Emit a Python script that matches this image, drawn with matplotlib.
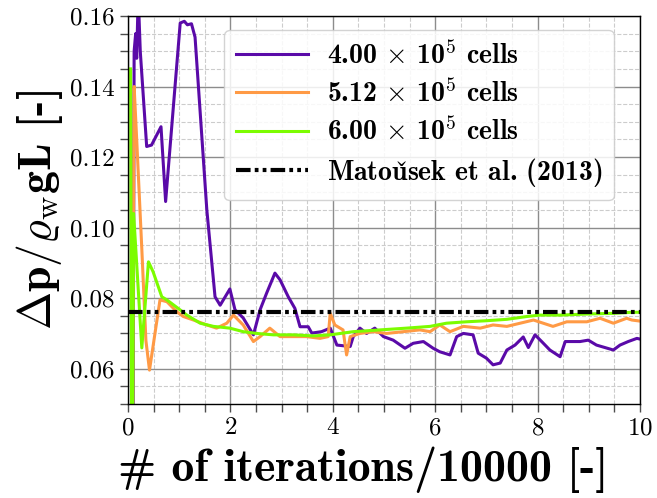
import matplotlib
matplotlib.use("Agg")
import matplotlib.pyplot as plt
from matplotlib.ticker import MultipleLocator

plt.rcParams['font.family'] = 'serif'
plt.rcParams['font.serif'] = ['cmr10']
plt.rcParams['mathtext.fontset'] = 'cm'
plt.rcParams['axes.formatter.use_mathtext'] = True

# pressure drop histories for the three meshes
x_400 = [0.10, 0.12, 0.15, 0.17, 0.20, 0.24, 0.365, 0.46, 0.645, 0.735, 1.02, 1.10, 1.16, 1.24,
         1.31, 1.54, 1.70, 1.80, 1.99, 2.09, 2.25, 2.45, 2.58, 2.71, 2.87, 2.97, 3.13, 3.26,
         3.36, 3.52, 3.59, 3.78, 3.95, 4.08, 4.34, 4.40, 4.53, 4.66, 4.82, 4.99, 5.18, 5.41,
         5.57, 5.77, 5.96, 6.09, 6.29, 6.42, 6.55, 6.74, 6.84, 7.00, 7.13, 7.27, 7.40, 7.56,
         7.72, 7.82, 7.95, 8.08, 8.24, 8.44, 8.54, 8.83, 8.99, 9.15, 9.48, 9.61, 9.77, 9.94, 10.0]
p_400 = [0.040, 0.150, 0.155, 0.148, 0.166, 0.150, 0.123, 0.1234, 0.1286, 0.1074, 0.158, 0.1585, 0.1575, 0.1578,
         0.154, 0.105, 0.0804, 0.078, 0.0826, 0.0767, 0.0744, 0.0696, 0.0767, 0.0815, 0.0871, 0.0852, 0.0804, 0.0771,
         0.0719, 0.0719, 0.0701, 0.0705, 0.0715, 0.0667, 0.0663, 0.0691, 0.0715, 0.0700, 0.0715, 0.0691, 0.0681, 0.0658,
         0.0672, 0.0677, 0.0658, 0.0648, 0.0639, 0.0691, 0.0700, 0.0696, 0.0644, 0.0630, 0.0611, 0.0616, 0.0653, 0.0667,
         0.0690, 0.0660, 0.0696, 0.0677, 0.0653, 0.0634, 0.0677, 0.0677, 0.0681, 0.0667, 0.0653, 0.0667, 0.0677, 0.0686, 0.0684]

x_512 = [0.09, 0.12, 0.17, 0.27, 0.35, 0.42, 0.625, 0.76, 0.95, 1.08, 1.28, 1.54, 1.73, 1.93, 2.06,
         2.25, 2.45, 2.58, 2.77, 2.97, 3.23, 3.49, 3.75, 3.91, 3.95, 4.04, 4.20, 4.27, 4.34, 4.53,
         4.79, 5.05, 5.38, 5.70, 5.90, 6.09, 6.29, 6.55, 6.88, 7.13, 7.40, 7.66, 7.92, 8.30, 8.57,
         8.96, 9.22, 9.48, 9.74, 9.84, 10.0]
p_512 = [0.040, 0.140, 0.125, 0.094, 0.068, 0.0596, 0.0795, 0.0790, 0.0762, 0.0748, 0.0738, 0.0724, 0.0715, 0.0729, 0.0752,
         0.0724, 0.0677, 0.0691, 0.0715, 0.0691, 0.0691, 0.0691, 0.0686, 0.0691, 0.0757, 0.0724, 0.0710, 0.0639, 0.0691, 0.0700,
         0.0705, 0.0700, 0.0705, 0.0710, 0.0705, 0.0724, 0.0705, 0.0720, 0.0715, 0.0724, 0.0720, 0.0729, 0.0738, 0.0720, 0.0733,
         0.0733, 0.0743, 0.0729, 0.0743, 0.0738, 0.0735]

x_600 = [0.05, 0.07, 0.09, 0.11, 0.27, 0.40, 0.49, 0.66, 0.76, 0.98, 1.15, 1.41, 1.67, 1.99, 2.25,
         2.51, 2.84, 3.23, 3.62, 3.95, 4.40, 4.92, 5.44, 5.90, 6.22, 6.61, 7.00, 7.40, 7.79, 8.05,
         8.44, 8.96, 9.48, 9.84, 10.0]
p_600 = [0.145, 0.040, 0.040, 0.104, 0.0659, 0.0903, 0.0875, 0.0804, 0.0795, 0.0771, 0.0752, 0.0729, 0.0720, 0.0715, 0.0705,
         0.0700, 0.0696, 0.0696, 0.0693, 0.0696, 0.0705, 0.0710, 0.0715, 0.0720, 0.0729, 0.0733, 0.0736, 0.0740, 0.0748, 0.0752,
         0.0752, 0.0755, 0.0757, 0.0760, 0.0760]

ref_value = 0.076

fig = plt.figure(figsize=(6.57, 4.98), dpi=100)
ax = fig.add_axes([0.1948, 0.1888, 0.7793, 0.7791])

ax.plot(x_400, p_400, color='#5a0aa8', lw=2.2, label=r'4.00 $\times$ 10$^\mathbf{5}$ cells')
ax.plot(x_512, p_512, color='#ff9a45', lw=2.2, label=r'5.12 $\times$ 10$^\mathbf{5}$ cells')
ax.plot(x_600, p_600, color='#7cfc00', lw=2.2, label=r'6.00 $\times$ 10$^\mathbf{5}$ cells')
ax.plot([0, 10], [ref_value, ref_value], color='black', lw=3,
        linestyle=(0, (3.5, 1, 0.9, 1, 0.9, 1)), label=r'Matou$\check{\mathbf{s}}$ek et al. (2013)')

ax.set_xlim(0, 10)
ax.set_ylim(0.05, 0.16)
ax.xaxis.set_major_locator(MultipleLocator(2))
ax.xaxis.set_minor_locator(MultipleLocator(0.5))
ax.yaxis.set_major_locator(MultipleLocator(0.02))
ax.yaxis.set_minor_locator(MultipleLocator(0.005))
ax.yaxis.set_major_formatter(plt.FuncFormatter(lambda v, p: f'{v:.2f}'))
ax.tick_params(which='both', direction='out', length=6, width=1, color='0.3', labelsize=18)
ax.grid(which='major', color='0.55', lw=1.0)
ax.grid(which='minor', color='0.8', lw=0.8, linestyle='--')
ax.set_axisbelow(True)
for s in ax.spines.values():
    s.set_linewidth(1.0)

ax.set_xlabel('# of iterations/10000 [-]', fontfamily='cmb10', fontsize=33, labelpad=0)
ax.xaxis.set_label_coords(0.46, -0.11, transform=ax.transAxes)
ax.xaxis.label.set_va('top')
ax.set_ylabel(r'$\mathbf{\Delta p}/\varrho_\mathrm{w}\mathbf{gL}$ [-]', fontfamily='cmb10', fontsize=33, labelpad=4)

leg = ax.legend(loc='upper right', bbox_to_anchor=(0.949, 0.964), borderaxespad=0,
                prop={'family': 'cmb10', 'size': 20}, handlelength=2.6, handletextpad=0.7,
                labelspacing=0.35, framealpha=0.85)

fig.savefig('out.png', dpi=100)
